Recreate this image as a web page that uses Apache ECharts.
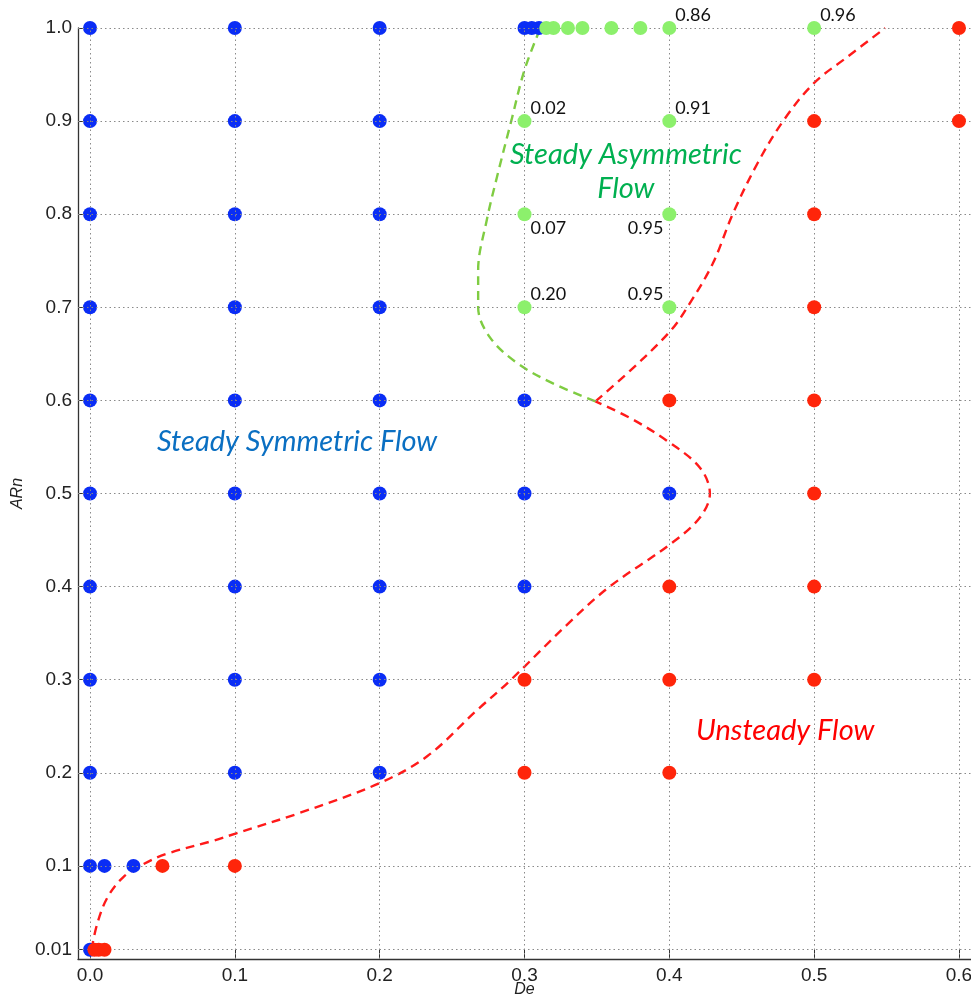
<!DOCTYPE html>
<html>
<head>
<meta charset="utf-8">
<script src="https://cdn.jsdelivr.net/npm/echarts@6/dist/echarts.min.js"></script>
<style>
  html, body { margin: 0; padding: 0; background: #fff; }
  #chart { width: 971px; height: 1001px; }
</style>
</head>
<body>
<div id="chart"></div>
<script>
// Axis tick values
const xTicks = [0, 0.1, 0.2, 0.3, 0.4, 0.5, 0.6];
const yTicks = [0.01, 0.1, 0.2, 0.3, 0.4, 0.5, 0.6, 0.7, 0.8, 0.9, 1.0];

// Simulated cases [De, ARn], grouped by resulting flow regime
const symmetricCases = [
  [0, 0.01], [0, 0.1], [0, 0.2], [0, 0.3], [0, 0.4], [0, 0.5], [0, 0.6], [0, 0.7], [0, 0.8], [0, 0.9], [0, 1.0],
  [0.01, 0.1], [0.03, 0.1],
  [0.1, 0.2], [0.1, 0.3], [0.1, 0.4], [0.1, 0.5], [0.1, 0.6], [0.1, 0.7], [0.1, 0.8], [0.1, 0.9], [0.1, 1.0],
  [0.2, 0.2], [0.2, 0.3], [0.2, 0.4], [0.2, 0.5], [0.2, 0.6], [0.2, 0.7], [0.2, 0.8], [0.2, 0.9], [0.2, 1.0],
  [0.3, 0.4], [0.3, 0.5], [0.3, 0.6], [0.3, 1.0], [0.305, 1.0], [0.31, 1.0],
  [0.4, 0.5]
];
const asymmetricCases = [
  [0.315, 1.0], [0.32, 1.0], [0.33, 1.0], [0.34, 1.0], [0.36, 1.0], [0.38, 1.0], [0.4, 1.0], [0.5, 1.0],
  [0.3, 0.9], [0.4, 0.9], [0.3, 0.8], [0.4, 0.8], [0.3, 0.7], [0.4, 0.7]
];
// Asymmetry measure printed next to some asymmetric cases ('' = none)
const asymmetryValues = ['', '', '', '', '', '', '0.86', '0.96', '0.02', '0.91', '0.07', '0.95', '0.20', '0.95'];
const unsteadyCases = [
  [0.003, 0.01], [0.006, 0.01], [0.01, 0.01],
  [0.05, 0.1], [0.1, 0.1],
  [0.3, 0.2], [0.4, 0.2], [0.3, 0.3], [0.4, 0.3], [0.5, 0.3],
  [0.4, 0.4], [0.5, 0.4], [0.5, 0.5], [0.4, 0.6], [0.5, 0.6],
  [0.5, 0.7], [0.5, 0.8], [0.5, 0.9], [0.6, 0.9], [0.6, 1.0]
];

// Regime boundaries
const unsteadyBoundaryLower = [
  [0.001, 0.01], [0.005, 0.038], [0.012, 0.066], [0.023, 0.088], [0.037, 0.102], [0.053, 0.113],
  [0.085, 0.127], [0.101, 0.135], [0.145, 0.157], [0.2, 0.189], [0.233, 0.218], [0.267, 0.267],
  [0.29, 0.299], [0.33, 0.36], [0.358, 0.399], [0.401, 0.446],
  [0.421, 0.474], [0.428, 0.5], [0.421, 0.528], [0.398, 0.557], [0.373, 0.581], [0.349, 0.599]
];
const unsteadyBoundaryUpper = [
  [0.349, 0.599], [0.373, 0.632], [0.401, 0.675], [0.414, 0.704], [0.43, 0.747], [0.444, 0.801],
  [0.461, 0.855], [0.479, 0.901], [0.5, 0.941], [0.523, 0.969], [0.549, 1.0]
];
const asymmetricBoundary = [
  [0.349, 0.599], [0.32, 0.618], [0.295, 0.64], [0.276, 0.668], [0.268, 0.7], [0.268, 0.74],
  [0.274, 0.794], [0.281, 0.84], [0.291, 0.901], [0.3, 0.955], [0.311, 1.0]
];

// ---- styling ----
const BLUE = '#0a2df5', GREEN = '#8cf06c', RED = '#ff250a';
const valueLabelCorner = ['', '', '', '', '', '', 'ne', 'ne', 'ne', 'ne', 'se', 'sw', 'ne', 'nw'];
const cornerStyle = {
  ne: { offset: [6, -13], align: 'left' },
  se: { offset: [6, 14], align: 'left' },
  sw: { offset: [-6, 14], align: 'right' },
  nw: { offset: [-6, -13], align: 'right' }
};

const asymData = asymmetricCases.map((p, i) => {
  const txt = asymmetryValues[i];
  if (!txt) return { value: p };
  const c = cornerStyle[valueLabelCorner[i]];
  return {
    value: p,
    label: {
      show: true, position: 'inside', formatter: txt,
      offset: c.offset, align: c.align, verticalAlign: 'middle',
      fontFamily: 'Lato', fontSize: 18, color: '#111', textBorderWidth: 0
    }
  };
});

const regionNote = (pos, text, color) => ({
  value: pos,
  label: {
    show: true, position: 'inside', formatter: text, color: color, textBorderWidth: 0, opacity: 1,
    fontFamily: 'Lato', fontStyle: 'italic', fontSize: 29, lineHeight: 34, align: 'center', verticalAlign: 'middle'
  }
});

const gridLine = { color: '#8a8a8a', type: [1.5, 3], width: 1 };
const axisText = { fontFamily: 'Liberation Sans', fontSize: 19, color: '#222' };
const boundaryRed = { color: '#ff1a1a', width: 2.4, type: [9, 6] };

const chart = echarts.init(document.getElementById('chart'), null, { renderer: 'canvas' });
chart.setOption({
  animation: false,
  backgroundColor: '#fff',
  grid: { left: 78, right: 0, top: 28, bottom: 42, containLabel: false, outerBoundsMode: 'none' },
  xAxis: {
    type: 'value', min: -0.0083, max: 0.6083,
    name: 'De', nameLocation: 'middle', nameGap: 23, nameMoveOverlap: false,
    nameTextStyle: { fontFamily: 'Liberation Sans', fontStyle: 'italic', fontSize: 16, color: '#222' },
    axisLine: { show: true, onZero: false, lineStyle: { color: '#333', width: 1.3 } },
    axisTick: { show: true, inside: true, length: 10, customValues: xTicks, lineStyle: { color: '#333' } },
    axisLabel: { customValues: xTicks, margin: 7, hideOverlap: false, formatter: v => v.toFixed(1), ...axisText },
    splitLine: { show: false }
  },
  yAxis: {
    type: 'value', min: 0, max: 1.0,
    name: 'ARn', nameLocation: 'middle', nameGap: 52, nameMoveOverlap: false,
    nameTextStyle: { fontFamily: 'Liberation Sans', fontStyle: 'italic', fontSize: 16, color: '#222' },
    axisLine: { show: true, onZero: false, lineStyle: { color: '#333', width: 1.3 } },
    axisTick: { show: true, inside: true, length: 6, customValues: yTicks, lineStyle: { color: '#333' } },
    axisLabel: { customValues: yTicks, margin: 6, formatter: v => (v < 0.05 ? '0.01' : v.toFixed(1)), ...axisText },
    splitLine: { show: false }
  },
  series: [
    {
      // dotted reference grid at every tick
      type: 'line', data: [], z: 1, silent: true,
      markLine: {
        symbol: 'none', silent: true, animation: false,
        label: { show: false },
        lineStyle: gridLine,
        data: xTicks.map(v => ({ xAxis: v })).concat(yTicks.map(v => ({ yAxis: v })))
      }
    },
    { type: 'line', data: unsteadyBoundaryLower, smooth: 0.35, showSymbol: false, z: 3, lineStyle: boundaryRed },
    { type: 'line', data: unsteadyBoundaryUpper, smooth: 0.35, showSymbol: false, z: 3, lineStyle: boundaryRed },
    {
      type: 'line', data: asymmetricBoundary, smooth: 0.35, showSymbol: false, z: 3,
      lineStyle: { color: '#7fcc42', width: 2.4, type: [9, 6] }
    },
    { type: 'scatter', data: symmetricCases, symbolSize: 14, itemStyle: { color: BLUE, opacity: 1 }, z: 4 },
    { type: 'scatter', data: asymData, symbolSize: 14, itemStyle: { color: GREEN, opacity: 1 }, z: 5 },
    { type: 'scatter', data: unsteadyCases, symbolSize: 14, itemStyle: { color: RED, opacity: 1 }, z: 6 },
    {
      // regime names
      type: 'scatter', symbolSize: 0, silent: true, z: 7,
      itemStyle: { opacity: 1, color: 'transparent' },
      data: [
        regionNote([0.143, 0.556], 'Steady Symmetric Flow', '#0a6fc2'),
        regionNote([0.370, 0.846], 'Steady Asymmetric\nFlow', '#00b050'),
        regionNote([0.480, 0.245], 'Unsteady Flow', '#ff0000')
      ]
    }
  ]
});
</script>
</body>
</html>
